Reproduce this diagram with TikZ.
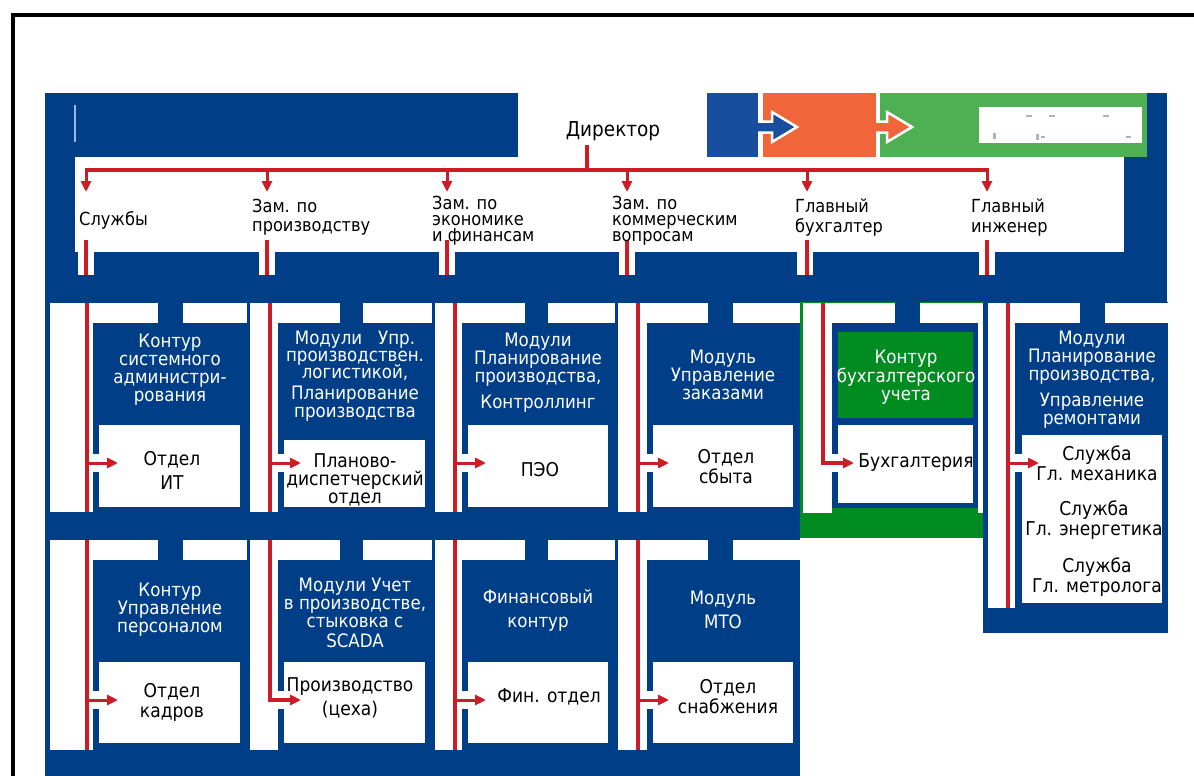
\documentclass[tikz,border=0pt]{standalone}
\usepackage{fontspec}
\setmainfont[FakeStretch=0.9]{DejaVu Sans}
\usetikzlibrary{arrows.meta}
\definecolor{navy}{RGB}{0,62,135}
\definecolor{blueBox}{RGB}{25,78,158}
\definecolor{orangeC}{RGB}{240,102,58}
\definecolor{greenTop}{RGB}{78,176,82}
\definecolor{greenAcc}{RGB}{0,140,32}
\definecolor{redL}{RGB}{204,28,38}
\definecolor{lightB}{RGB}{150,185,230}
\begin{document}
\begin{tikzpicture}[x=1pt,y=-1pt,
  rl/.style={draw=redL,line width=3.2pt},
  ra/.style={draw=redL,line width=3pt,-{Triangle[length=11pt,width=10pt]}},
  lbl/.style={anchor=west,align=left,inner sep=0pt,font=\fontsize{18}{16}\selectfont},
  ttl/.style={align=center,inner sep=0pt,text=white,font=\fontsize{18.5}{18}\selectfont},
  bt/.style={align=center,inner sep=0pt,text=black,font=\fontsize{19}{18}\selectfont}]
\useasboundingbox (0,0) rectangle (1194,776);
\fill[white] (0,0) rectangle (1194,776);
% frame
\draw[line width=4pt] (12.5,776) -- (12.5,15) -- (1194,15);
% blue structure
\fill[navy] (45,93) rectangle (518,157);
\fill[navy] (45,93) rectangle (75,302);
\fill[navy] (45,252) rectangle (1167,302);
\fill[navy] (1124,93) rectangle (1167,302);
\fill[navy] (45,302) rectangle (800,776);
\fill[navy] (983,302) rectangle (1168,633);
\fill[greenAcc] (800,302) rectangle (983,538);
\draw[lightB,line width=1.2pt] (75,105) -- (75,142);
% top right boxes
\fill[greenTop] (880,93) rectangle (1147,157);
\fill[white] (979,107) rectangle (1142,143);
\foreach \a/\b/\c/\d in {1026/115/1032/117,1049/115/1055/117,1103/115/1109/117,993/133/996/139,1036/134/1039/140,1041/136/1045/137.5,1126/136/1131/137.5}
  \fill[gray!60] (\a,\b) rectangle (\c,\d);
\filldraw[fill=orangeC,draw=white,line width=2.5pt,line join=miter] (866,121.5) -- (887,121.5) -- (887,112) -- (912,127) -- (887,142) -- (887,132.5) -- (866,132.5) -- cycle;
\fill[orangeC] (763,93) rectangle (876,157);
\filldraw[fill=blueBox,draw=white,line width=2.5pt,line join=miter] (748,121.5) -- (772,121.5) -- (772,112) -- (797,127) -- (772,142) -- (772,132.5) -- (748,132.5) -- cycle;
\fill[blueBox] (707,93) rectangle (758,157);
% header strips
\foreach \x in {86,267,447,627,805,987}
  \fill[white] (\x-8,252) rectangle (\x+8,275);
% columns 1-4, rows 1 and 2
\foreach \k/\L/\r/\S/\gl/\gr/\R/\bt in {1/50/87/93/158/183/247/425, 2/250/270/278/340/363/432/440, 3/435/455/462/525/548/615/425, 4/618/638/647/708/733/800/425}{
  \fill[white] (\L,303) rectangle (\S,512);
  \fill[white] (\S,303) rectangle (\gl,323);
  \fill[white] (\gr,303) rectangle (\R,323);
  \fill[white] (\S+6,\bt) rectangle (\R-7,507);
  \fill[white] (\S-1,454) rectangle (\S+8,472);
  \fill[white] (\L,540) rectangle (\S,750);
  \fill[white] (\S,540) rectangle (\gl,560);
  \fill[white] (\gr,540) rectangle (\R,560);
  \fill[white] (\S+6,662) rectangle (\R-7,743);
  \fill[white] (\S-1,691) rectangle (\S+8,709);
}
% column 5 (accounting)
\fill[white] (803,303) rectangle (832,513);
\fill[white] (832,303) rectangle (895,323);
\fill[navy] (895,302) rectangle (920,323);
\fill[white] (920,303) rectangle (983,323);
\fill[white] (978,323) rectangle (983,513);
\fill[navy] (832,323) rectangle (978,508);
\fill[greenAcc] (838,332) rectangle (973,418);
\fill[white] (838,425) rectangle (973,503);
\fill[white] (831,454) rectangle (840,472);
% column 6 (engineer)
\fill[white] (988,303) rectangle (1015,608);
\fill[white] (1015,303) rectangle (1080,323);
\fill[white] (1105,303) rectangle (1168,323);
\fill[white] (1022,435) rectangle (1162,603);
\fill[white] (1014,454) rectangle (1023,472);
% header: director and bus
\node[lbl,anchor=center,font=\fontsize{20.5}{20}\selectfont] (dir) at (613,131) {Директор};
\coordinate (dirb) at (587,145);
\coordinate (busd) at (587,170);
\coordinate (busL) at (84.5,170);
\coordinate (busR) at (988.5,170);
\draw[rl] (dirb) -- (busd);
\draw[rl] (busL) -- (busR);
\foreach \i/\x in {1/86,2/267,3/447,4/627,5/807,6/987}{
  \coordinate (t\i) at (\x,170);
  \coordinate (h\i) at (\x,192);
  \draw[ra] (t\i) -- (h\i);
  \coordinate (sa\i) at (\x,240);
  \coordinate (sb\i) at (\x,275);
  \draw[rl] (sa\i) -- (sb\i);
}
\node[lbl] (l1) at (79,220) {Службы};
\node[lbl] (l2) at (252,217) {Зам. по\\[3pt]производству};
\node[lbl] (l3) at (432,221) {Зам. по\\экономике\\и финансам};
\node[lbl] (l4) at (612,221) {Зам. по\\коммерческим\\вопросам};
\node[lbl] (l5) at (795,218) {Главный\\[4pt]бухгалтер};
\node[lbl] (l6) at (971,218) {Главный\\[4pt]инженер};
% red lines in columns, row 1
\foreach \k/\r in {1/87,2/270,3/455,4/638,6/1008}{
  \coordinate (ca\k) at (\r,303);
  \coordinate (cm\k) at (\r,463);
  \coordinate (ct\k) at (\r+31,463);
  \draw[ra] (cm\k) -- (ct\k);
}
\coordinate (cb1) at (87,512);
\coordinate (cb2) at (270,512);
\coordinate (cb3) at (455,512);
\coordinate (cb4) at (638,512);
\coordinate (cb6) at (1008,608);
\foreach \k in {1,2,3,4,6}
  \draw[rl] (ca\k) -- (cb\k);
\coordinate (ca5) at (823,303);
\coordinate (ct5) at (854,463);
\draw[rl,-{Triangle[length=11pt,width=10pt]}] (ca5) |- (ct5);
% row 2
\foreach \k/\r in {1/87,3/455,4/638}{
  \coordinate (da\k) at (\r,540);
  \coordinate (db\k) at (\r,750);
  \coordinate (dm\k) at (\r,700);
  \coordinate (dt\k) at (\r+31,700);
  \draw[rl] (da\k) -- (db\k);
  \draw[ra] (dm\k) -- (dt\k);
}
\coordinate (da2) at (270,540);
\coordinate (dt2) at (301,700);
\draw[rl,-{Triangle[length=11pt,width=10pt]}] (da2) |- (dt2);
% titles row 1
\node[ttl] (p11) at (170,370) {Контур\\системного\\администри-\\рования};
\node[ttl] (p21) at (355,376) {Модули\ \ \ Упр.\\[-1pt]производствен.\\[-1pt]логистикой,\\[3pt]Планирование\\производства};
\node[ttl] (p31) at (538,373) {Модули\\Планирование\\производства,\\[8pt]Контроллинг};
\node[ttl] (p41) at (723,375) {Модуль\\Управление\\заказами};
\node[ttl] (p51) at (906,377) {Контур\\бухгалтерского\\учета};
\node[ttl] (p61) at (1092,380) {Модули\\Планирование\\производства,\\[8pt]Управление\\ремонтами};
% boxes row 1
\node[bt] (b11) at (172,470) {Отдел\\[6pt]ИТ};
\node[bt] (b21) at (355,480) {Планово-\\диспетчерский\\отдел};
\node[bt] (b31) at (540,470) {ПЭО};
\node[bt] (b41) at (726,467) {Отдел\\[2pt]сбыта};
\node[bt] (b51) at (916,463) {Бухгалтерия};
\node[bt] (b61) at (1097,463) {Служба\\[2pt]Гл. механика};
\node[bt] (b62) at (1094,520) {Служба\\[2pt]Гл. энергетика};
\node[bt] (b63) at (1097,577) {Служба\\[2pt]Гл. метролога};
% titles row 2
\node[ttl] (p12) at (170,610) {Контур\\Управление\\персоналом};
\node[ttl] (p22) at (355,613) {Модули Учет\\в производстве,\\стыковка с\\[2pt]SCADA};
\node[ttl] (p32) at (538,610) {Финансовый\\[6pt]контур};
\node[ttl] (p42) at (723,610) {Модуль\\[6pt]МТО};
% boxes row 2
\node[bt] (b12) at (172,702) {Отдел\\[2pt]кадров};
\node[bt] (b22) at (350,698) {Производство\\[5pt](цеха)};
\node[bt] (b32) at (549,697) {Фин. отдел};
\node[bt] (b42) at (728,697) {Отдел\\[2pt]снабжения};
\end{tikzpicture}
\end{document}
